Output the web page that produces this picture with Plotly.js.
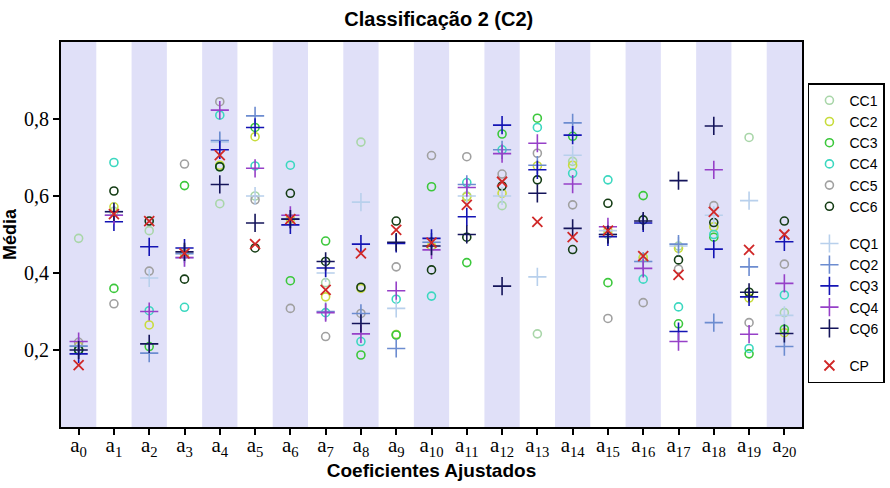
<!DOCTYPE html>
<html>
<head>
<meta charset="utf-8">
<script src="https://cdn.plot.ly/plotly-3.0.1.min.js"></script>
<style>
  body { margin: 0; background: #fff; }
  #plot { width: 890px; height: 488px; }
</style>
</head>
<body>
<div id="plot"></div>
<script>
// coefficients a0..a20
const categories = [0,1,2,3,4,5,6,7,8,9,10,11,12,13,14,15,16,17,18,19,20];
const tickLabels = categories.map(i => 'a<sub>' + i + '</sub>');

const cc1 = [0.49,0.56,0.51,0.45,0.58,0.60,0.54,0.375,0.74,0.24,0.47,0.60,0.575,0.242,0.69,0.50,0.44,0.47,0.52,0.752,0.297];
const cc2 = [0.21,0.572,0.265,0.45,0.68,0.754,0.54,0.338,0.36,0.24,0.47,0.598,0.607,0.678,0.68,0.51,0.44,0.464,0.52,0.335,0.245];
const cc3 = [0.20,0.36,0.209,0.627,0.676,0.778,0.38,0.483,0.187,0.239,0.624,0.427,0.761,0.802,0.755,0.375,0.601,0.268,0.493,0.19,0.254];
const cc4 = [0.20,0.687,0.302,0.311,0.81,0.678,0.68,0.297,0.222,0.332,0.34,0.635,0.72,0.778,0.659,0.642,0.384,0.312,0.50,0.204,0.343];
const cc5 = [0.22,0.32,0.405,0.683,0.845,0.59,0.308,0.235,0.295,0.416,0.705,0.702,0.657,0.711,0.577,0.282,0.323,0.41,0.575,0.271,0.423];
const cc6 = [0.20,0.613,0.535,0.384,0.676,0.465,0.607,0.43,0.363,0.535,0.408,0.493,0.626,0.642,0.461,0.581,0.538,0.434,0.531,0.35,0.535];

const cq1 = [0.21,0.56,0.387,0.44,0.74,0.60,0.54,0.40,0.584,0.308,0.48,0.60,0.60,0.39,0.706,0.51,0.43,0.47,0.55,0.588,0.29];
const cq2 = [0.21,0.55,0.192,0.45,0.744,0.808,0.54,0.30,0.295,0.204,0.48,0.63,0.72,0.68,0.79,0.50,0.43,0.475,0.271,0.416,0.209];
const cq3 = [0.19,0.533,0.468,0.465,0.72,0.778,0.525,0.413,0.475,0.477,0.49,0.546,0.784,0.668,0.758,0.494,0.53,0.248,0.462,0.338,0.481];
const cq4 = [0.222,0.55,0.30,0.44,0.823,0.672,0.55,0.297,0.242,0.354,0.46,0.622,0.71,0.737,0.631,0.52,0.412,0.222,0.668,0.241,0.373];
const cq6 = [0.20,0.559,0.216,0.455,0.63,0.53,0.54,0.43,0.269,0.48,0.47,0.50,0.366,0.607,0.516,0.50,0.535,0.64,0.782,0.35,0.243];

const cp = [0.161,0.553,0.535,0.451,0.706,0.475,0.54,0.356,0.451,0.512,0.479,0.577,0.637,0.533,0.493,0.51,0.444,0.395,0.559,0.46,0.50];

function circles(name, y, color) {
    return {
        name: name, x: categories, y: y, type: 'scatter', mode: 'markers',
        legendgroup: 'cc',
        marker: { symbol: 'circle-open', size: 8, color: color, line: { width: 1.6, color: color } }
    };
}
function crosses(name, y, color) {
    return {
        name: name, x: categories, y: y, type: 'scatter', mode: 'markers',
        legendgroup: 'cq',
        marker: { symbol: 'cross-thin-open', size: 13, color: color, line: { width: 1.6, color: color } }
    };
}

let traces = [
    circles('CC1', cc1, '#a9d6a9'),
    circles('CC2', cc2, '#c8dc3c'),
    circles('CC3', cc3, '#3cc83c'),
    circles('CC4', cc4, '#3cd8c0'),
    circles('CC5', cc5, '#a0a0a0'),
    circles('CC6', cc6, '#143c14'),
    crosses('CQ1', cq1, '#b8d0ec'),
    crosses('CQ2', cq2, '#6c8cd0'),
    crosses('CQ3', cq3, '#1414b4'),
    crosses('CQ4', cq4, '#9640c8'),
    crosses('CQ6', cq6, '#14145a'),
    {
        name: 'CP', x: categories, y: cp, type: 'scatter', mode: 'markers',
        legendgroup: 'cp',
        marker: { symbol: 'x-thin-open', size: 10, color: '#d02828', line: { width: 1.8, color: '#d02828' } }
    }
];

// shaded bands behind even coefficients
let shapes = categories.filter(i => i % 2 === 0).map(i => ({
    type: 'rect', xref: 'x', yref: 'paper', x0: i - 0.5, x1: i + 0.5, y0: 0, y1: 1,
    fillcolor: '#e0e0f8', line: { width: 0 }, layer: 'below'
}));

let layout = {
    width: 890,
    height: 488,
    margin: { l: 61, r: 88, t: 42, b: 61, autoexpand: false },
    paper_bgcolor: '#fff',
    plot_bgcolor: '#fff',
    separators: ',.',
    showlegend: true,
    shapes: shapes,
    title: {
        text: '<b>Classificação 2 (C2)</b>',
        font: { family: 'Liberation Sans, Arial', size: 20, color: '#000' },
        x: 0.493, xanchor: 'center', y: 0.962, yanchor: 'middle'
    },
    xaxis: {
        range: [-0.5, 20.5],
        tickvals: categories,
        ticktext: tickLabels,
        tickfont: { family: 'Liberation Serif, Times New Roman', size: 21, color: '#000' },
        ticklabelstandoff: -8,
        ticks: 'outside', ticklen: 6, tickwidth: 1.5, tickcolor: '#000',
        showgrid: false, zeroline: false,
        showline: true, linecolor: '#000', linewidth: 2, mirror: true,
        title: {
            text: '<b>Coeficientes Ajustados</b>',
            font: { family: 'Liberation Sans, Arial', size: 19, color: '#000' },
            standoff: 4
        }
    },
    yaxis: {
        range: [0, 1],
        tickvals: [0.2, 0.4, 0.6, 0.8],
        tickformat: '.1f',
        tickfont: { family: 'Liberation Serif, Times New Roman', size: 20, color: '#000' },
        ticks: 'outside', ticklen: 6, tickwidth: 1.5, tickcolor: '#000',
        showgrid: false, zeroline: false,
        showline: true, linecolor: '#000', linewidth: 2, mirror: true,
        title: {
            text: '<b>Média</b>',
            font: { family: 'Liberation Sans, Arial', size: 18, color: '#000' },
            standoff: 6
        }
    },
    legend: {
        x: 1.008, xanchor: 'left', y: 0.893, yanchor: 'top',
        traceorder: 'grouped', tracegroupgap: 16,
        bordercolor: '#000', borderwidth: 1.5, bgcolor: '#fff',
        font: { family: 'Liberation Sans, Arial', size: 14, color: '#000' },
        itemwidth: 30
    }
};

Plotly.newPlot(document.getElementById('plot'), traces, layout, { displayModeBar: false });
</script>
</body>
</html>
